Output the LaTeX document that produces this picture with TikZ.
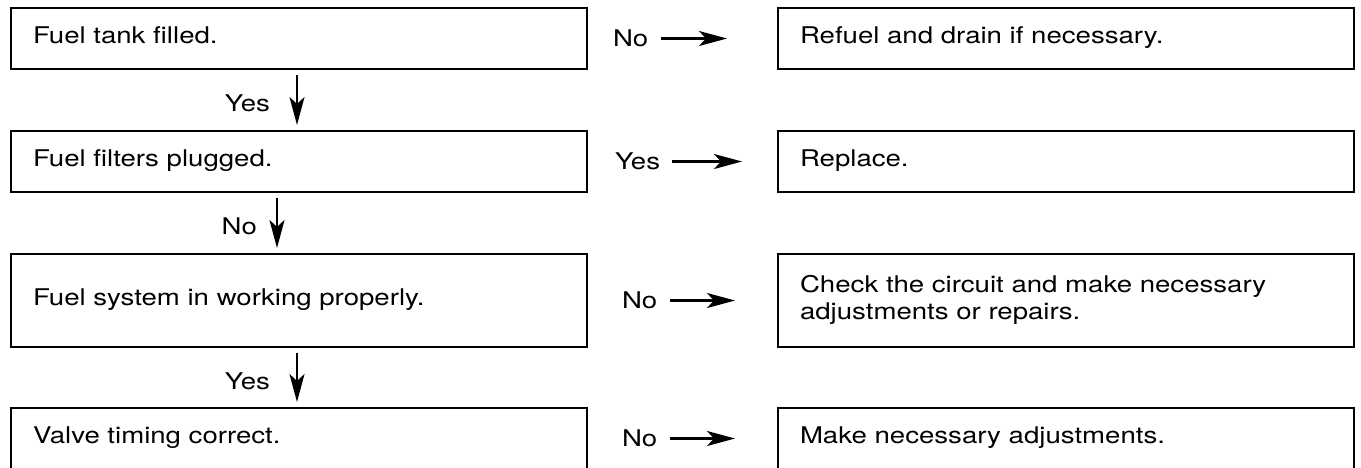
\documentclass[tikz,border=0pt]{standalone}
\usepackage{fontspec}
\setmainfont[FakeStretch=1.2]{TeX Gyre Heros}
\usetikzlibrary{positioning,arrows.meta}

\begin{document}
\begin{tikzpicture}[x=1pt,y=1pt,font=\fontsize{23}{27}\selectfont,
  box/.style={draw,line width=2.6pt,rectangle,minimum width=576pt,minimum height=61pt,
    text width=532pt,align=left,inner xsep=22pt,inner ysep=0pt,outer sep=0pt,
    execute at begin node=\strut,execute at end node=\strut},
  lbl/.style={inner sep=0pt,outer sep=0pt},
  vlbl/.style={lbl,yshift=-3.5pt},
  arr/.style={line width=2.4pt,-{Stealth[length=28pt,width=15pt,inset=7pt]}}]
\useasboundingbox (0,0) rectangle (1361,-467);
% checks on the left
\node[box] (q1) at (299,-38.5) {Fuel tank filled.};
\node[box] (q2) at (299,-161.5) {Fuel filters plugged.};
\node[box,minimum height=93pt] (q3) at (299,-300.5) {Fuel system in working properly.};
\node[box] (q4) at (299,-438.5) {Valve timing correct.};
% remedies on the right
\node[box] (r1) at (1066,-38.5) {Refuel and drain if necessary.};
\node[box] (r2) at (1066,-161.5) {Replace.};
\node[box,minimum height=93pt] (r3) at (1066,-300.5) {Check the circuit and make necessary\\adjustments or repairs.};
\node[box] (r4) at (1066,-438.5) {Make necessary adjustments.};
% downward answers
\draw[arr] ([xshift=-2pt,yshift=-6pt]q1.south) -- node[vlbl,left=27pt] {Yes} ([xshift=-2pt,yshift=6pt]q2.north);
\draw[arr] ([xshift=-22pt,yshift=-6pt]q2.south) -- node[vlbl,left=20pt] {No} ([xshift=-22pt,yshift=6pt]q3.north);
\draw[arr] ([xshift=-2pt,yshift=-6pt]q3.south) -- node[vlbl,left=27pt] {Yes} ([xshift=-2pt,yshift=6pt]q4.north);
% answers to the right
\node[lbl,right=26pt of q1] (a1) {No};
\node[lbl,right=28pt of q2] (a2) {Yes};
\node[lbl,right=35pt of q3] (a3) {No};
\node[lbl,right=35pt of q4] (a4) {No};
\coordinate[left=51pt of r1] (t1);
\coordinate[left=36pt of r2] (t2);
\coordinate[left=43pt of r3] (t3);
\coordinate[left=43pt of r4] (t4);
\draw[arr] ([xshift=13pt]a1.east) -- (t1);
\draw[arr] ([xshift=12pt]a2.east) -- (t2);
\draw[arr] ([xshift=13pt]a3.east) -- (t3);
\draw[arr] ([xshift=13pt]a4.east) -- (t4);
\end{tikzpicture}
\end{document}
